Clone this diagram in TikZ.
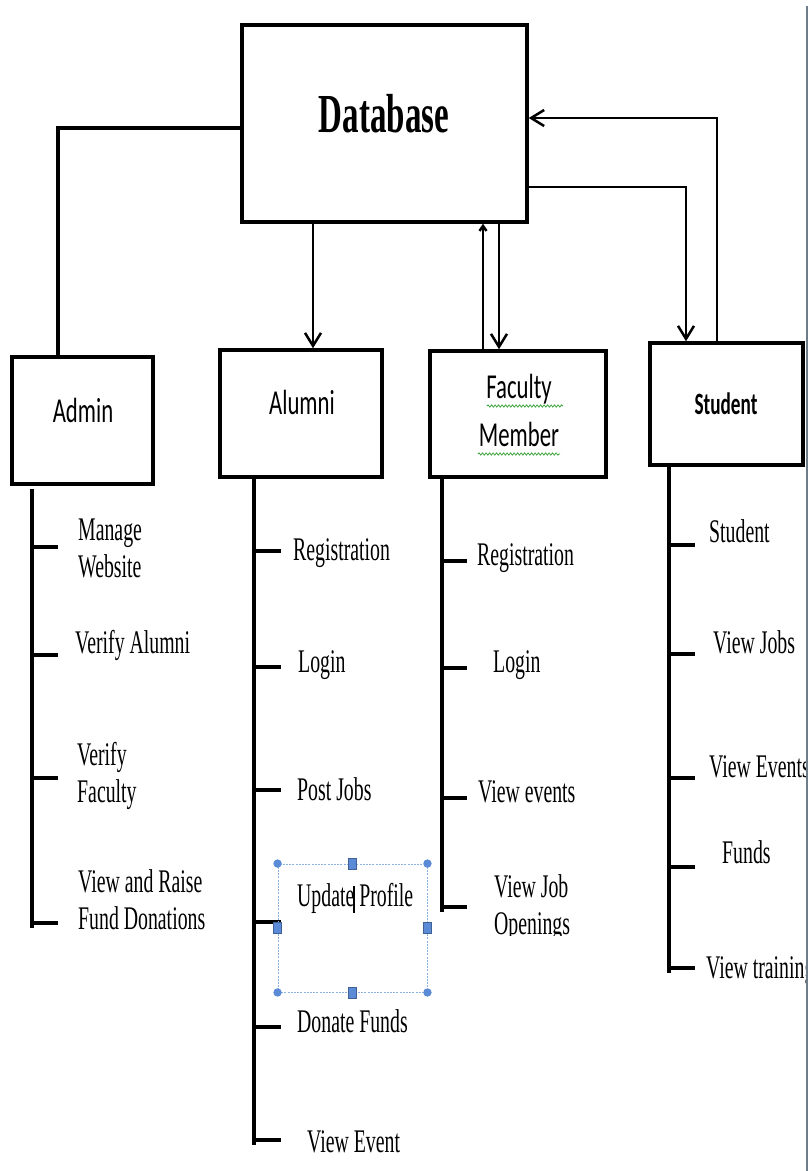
\documentclass[tikz,border=0pt]{standalone}
\usepackage{fontspec}
\setmainfont{Liberation Serif}
\newfontfamily\calfont{Carlito}
\usepackage{graphicx}
\usetikzlibrary{arrows.meta,calc,decorations.pathmorphing}
\newcommand{\sqz}[1]{\scalebox{0.6}[1]{#1}}
\newcommand{\sqb}[1]{\scalebox{0.65}[1]{#1}}
\definecolor{selline}{HTML}{8DB3E2}
\definecolor{selhandle}{HTML}{5B8BD6}
\definecolor{wavegreen}{HTML}{3DA33D}
\definecolor{edgegrey}{HTML}{6F7C8A}
\begin{document}
\begin{tikzpicture}[x=1pt,y=-1pt,
  box/.style={draw,line width=3.5pt,inner sep=0pt},
  conn/.style={line width=2.5pt},
  arr/.style={line width=2.5pt,-{Straight Barb[length=13pt,width=16pt]}},
  trunk/.style={line width=4pt},
  tk/.style={line width=4.5pt},
  itm/.style={anchor=base west,inner sep=0pt,font=\fontsize{33}{37}\selectfont},
  rolelbl/.style={anchor=base,inner sep=0pt,font=\calfont\fontsize{35}{48}\selectfont},
  wavy/.style={draw=wavegreen,line width=0.8pt,decorate,decoration={snake,amplitude=1.1pt,segment length=3.5pt}},
  handle/.style={fill=selhandle},
  sqhandle/.style={draw=selhandle!70!black,fill=selhandle,line width=0.4pt,minimum width=8pt,minimum height=11pt,inner sep=0pt}]
\useasboundingbox (0,0) rectangle (810,1171);
\fill[white] (0,0) rectangle (810,1171);

% boxes
\node[box,minimum width=285pt,minimum height=197pt] (db) at (384.5,123.5) {};
\node[box,minimum width=141pt,minimum height=127pt] (admin) at (82.5,420.5) {};
\node[box,minimum width=162pt,minimum height=127pt] (alumni) at (301,413.5) {};
\node[box,minimum width=176pt,minimum height=126pt] (faculty) at (518,414) {};
\node[box,minimum width=153pt,minimum height=122pt] (student) at (726.5,404) {};

% box labels
\node[anchor=base,inner sep=0pt] (dbl) at (384,132) {\fontsize{55}{60}\selectfont\bfseries\sqz{Database}};
\node[rolelbl] (adminl) at (83,422) {\sqb{Admin}};
\node[rolelbl] (alumnil) at (302,414) {\sqb{Alumni}};
\node[rolelbl] (facultyl) at (519,398) {\sqb{\begin{tabular}[t]{@{}c@{}}Faculty\\Member\end{tabular}}};
\node[anchor=base,inner sep=0pt,font=\calfont\bfseries\fontsize{31}{37}\selectfont] (studentl) at (726,414) {\scalebox{0.62}[1]{Student}};
\draw[wavy] (487,406) -- (563,406);
\draw[wavy] (478,454) -- (560,454);

% connectors
\draw[conn,line width=3.5pt] ($(db.west)+(0,4.5)$) -| ($(admin.north)+(-24.5,2)$);
\draw[arr] ($(db.south)+(-71.5,0)$) -- ($(alumni.north)+(12,0)$);
\draw[conn,-{Straight Barb[length=5pt,width=7pt]}] ($(faculty.north)+(-35,0)$) -- ($(db.south)+(98.5,0)$);
\draw[arr] ($(db.south)+(114.5,0)$) -- ($(faculty.north)+(-19,0)$);
\draw[arr] ($(db.east)+(0,63.5)$) -| ($(student.north)+(-40.5,0)$);
\draw[arr] ($(student.north)+(-9.5,0)$) |- ($(db.east)+(0,-5.5)$);

% trunks
\draw[trunk] ($(admin.south west)+(22,3)$) -- ($(admin.south west)+(22,442)$);
\draw[trunk] ($(alumni.south west)+(36,0)$) -- ($(alumni.south west)+(36,666)$);
\draw[trunk] ($(faculty.south west)+(14,0)$) -- ($(faculty.south west)+(14,433)$);
\draw[trunk] ($(student.south west)+(21,0)$) -- ($(student.south west)+(21,506)$);

% ticks admin
\foreach \y in {547,655,778,923} \draw[tk] (34,\y) -- (58,\y);
% ticks alumni
\foreach \y in {551,667,790,922,1027,1140} \draw[tk] (256,\y) -- (281,\y);
% ticks faculty
\foreach \y in {561,668,798,907} \draw[tk] (444,\y) -- (467,\y);
% ticks student
\foreach \y in {545,654,778,867,968} \draw[tk] (671,\y) -- (695,\y);

% admin items
\node[itm] (a1) at (78,540) {\sqz{\begin{tabular}[t]{@{}l@{}}Manage\\Website\end{tabular}}};
\node[itm] (a2) at (75,653) {\sqz{Verify Alumni}};
\node[itm] (a3) at (77,765) {\sqz{\begin{tabular}[t]{@{}l@{}}Verify\\Faculty\end{tabular}}};
\node[itm] (a4) at (78,892) {\sqz{\begin{tabular}[t]{@{}l@{}}View and Raise\\Fund Donations\end{tabular}}};

% alumni items
\node[itm] (b1) at (293,560) {\sqz{Registration}};
\node[itm] (b2) at (298,672) {\sqz{Login}};
\node[itm] (b3) at (297,800) {\sqz{Post Jobs}};
\node[itm] (b4) at (297,906) {\sqz{Update Profile}};
\node[itm] (b5) at (297,1032) {\sqz{Donate Funds}};
\node[itm] (b6) at (307,1152) {\sqz{View Event}};

% selection frame round Update Profile
\node[draw=selline,dashed,dash pattern=on 2pt off 1.2pt,line width=0.9pt,minimum width=149pt,minimum height=128pt,inner sep=0pt] (sel) at (352.5,928) {};
\foreach \a in {north west,north east,south west,south east} \fill[handle] (sel.\a) circle (4.2pt);
\foreach \a in {north,south,west,east} \node[sqhandle] at (sel.\a) {};
\draw[line width=1.6pt] (354,886) -- (354,913);

% faculty items
\node[itm] (c1) at (477,565) {\sqz{Registration}};
\node[itm] (c2) at (493,672) {\sqz{Login}};
\node[itm] (c3) at (478,802) {\sqz{View events}};
\begin{scope}
\clip (470,860) rectangle (620,935);
\node[itm] (c4) at (494,897) {\sqz{\begin{tabular}[t]{@{}l@{}}View Job\\Openings\end{tabular}}};
\end{scope}

% student items
\node[itm] (d1) at (709,542) {\sqz{Student}};
\node[itm] (d2) at (713,653) {\sqz{View Jobs}};
\node[itm] (d3) at (709,777) {\sqz{View Events}};
\node[itm] (d4) at (722,863) {\sqz{Funds}};
\node[itm] (d5) at (706,978) {\sqz{View training}};

% right edge
\fill[white] (806,0) rectangle (810,1171);
\draw[edgegrey,line width=2pt] (807,6) -- (807,1171);
\end{tikzpicture}
\end{document}
